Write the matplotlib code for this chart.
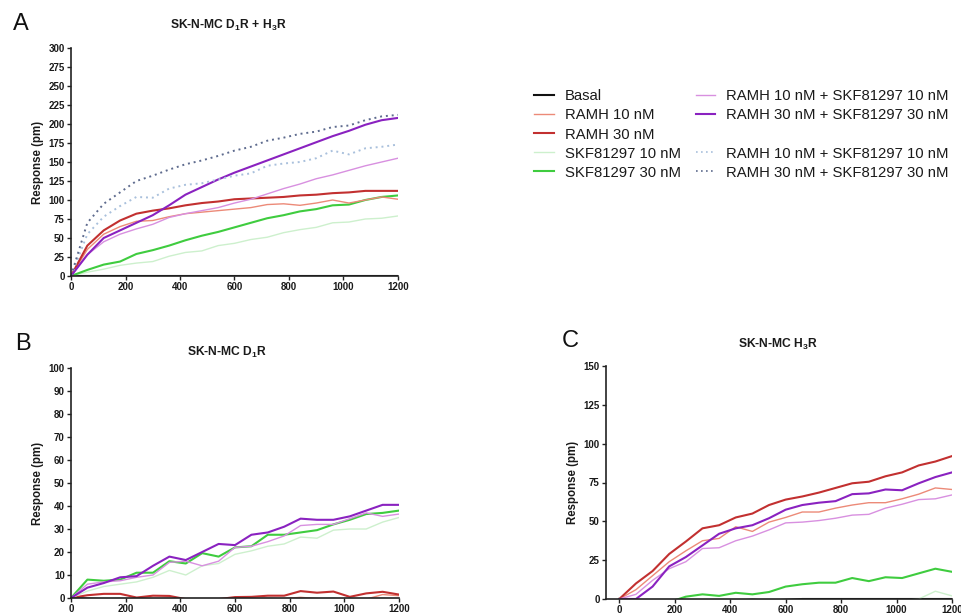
import matplotlib
matplotlib.use("Agg")
import matplotlib.pyplot as plt
from matplotlib.lines import Line2D

plt.rcParams['font.family'] = ['Liberation Sans', 'DejaVu Sans']
plt.rcParams['mathtext.fontset'] = 'custom'
plt.rcParams['mathtext.rm'] = 'Liberation Sans'
plt.rcParams['mathtext.bf'] = 'Liberation Sans:bold'

# ---------------- data ----------------
time_s = [0, 60, 120, 180, 240, 300, 360, 420, 480, 540, 600, 660, 720, 780, 840,
          900, 960, 1020, 1080, 1140, 1200]

series_labels = ["Basal", "RAMH 10 nM", "RAMH 30 nM", "SKF81297 10 nM", "SKF81297 30 nM",
                 "RAMH 10 nM + SKF81297 10 nM", "RAMH 30 nM + SKF81297 30 nM",
                 "RAMH 10 nM + SKF81297 10 nM", "RAMH 30 nM + SKF81297 30 nM"]

# Panel A: SK-N-MC D1R + H3R
a_basal = [0] * 21
a_ramh10 = [0, 35, 55, 65, 72, 73, 78, 82, 84, 86, 88, 90, 94, 95, 93, 96, 100, 96, 100, 104, 101]
a_ramh30 = [0, 40, 60, 73, 82, 86, 89, 93, 96, 98, 101, 102, 103, 104, 106, 107, 109, 110, 112, 112, 112]
a_skf10 = [0, 5, 9, 14, 17, 19, 26, 31, 33, 40, 43, 48, 51, 57, 61, 64, 70, 71, 75, 76, 79]
a_skf30 = [0, 8, 15, 19, 29, 34, 40, 47, 53, 58, 64, 70, 76, 80, 85, 88, 93, 94, 100, 104, 106]
a_combo10 = [0, 28, 45, 55, 62, 68, 77, 82, 86, 90, 96, 101, 108, 115, 121, 128, 133, 139, 145, 150, 155]
a_combo30 = [0, 28, 50, 60, 70, 80, 93, 107, 117, 127, 136, 144, 152, 160, 168, 176, 184, 191, 199, 205, 208]
a_sum10 = [0, 55, 78, 92, 104, 103, 115, 120, 122, 127, 132, 135, 145, 148, 150, 155, 165, 160, 168, 170, 173]
a_sum30 = [0, 70, 95, 110, 125, 132, 140, 147, 152, 158, 165, 170, 178, 182, 187, 190, 196, 198, 205, 210, 212]

# Panel B: SK-N-MC D1R
b_basal = [0, -0.3, -0.5, -0.4, -0.6, -0.5, -0.4, -0.6, -0.5, -0.5, -0.4, -0.5, -0.4, -0.5, -0.3,
           -0.5, -0.4, -0.6, -0.5, -0.4, -0.5]
b_ramh10 = [0, -0.5, -0.3, -0.5, -1, -0.5, -0.3, -1, -1.5, -1, -0.5, -0.5, -0.5, -0.3, 0.3,
            -0.3, -0.5, -1, -0.5, 1.5, 1.0]
b_ramh30 = [0, 1.2, 1.8, 1.8, 0.2, 1.0, 0.9, -0.5, -1, -0.5, 0.4, 0.5, 1.0, 1.0, 3.0,
            2.3, 2.8, 0.5, 2.0, 2.7, 1.5]
b_skf10 = [0, 3, 5, 6, 7, 9, 12, 10, 14, 15, 19, 20.5, 22.5, 23.5, 26.5, 26, 29.5, 30, 30, 33, 35]
b_skf30 = [0, 8, 7.5, 8, 11, 11, 16, 15, 19.5, 18, 22, 22.5, 27.5, 27.5, 28.5, 29.5, 32, 34, 36.5, 37, 38]
b_combo10 = [0, 6, 7, 7.5, 9, 10, 15.5, 16, 14, 16, 22, 22.5, 24.5, 27, 31.5, 32, 32, 34.5, 37, 35.5, 36.5]
b_combo30 = [0, 4.5, 6.5, 9, 9.5, 14, 18, 16.5, 20, 23.5, 23, 27.5, 28.5, 31, 34.5, 34, 34, 35.5, 38, 40.5, 40.5]

# Panel C: SK-N-MC H3R
c_basal = [0, -1, -1.5, -1, -1.5, -1, -1.5, -1, -0.5, -1, -0.5, 0, 0, 0, 0, 0, 0, 0, 0, 0, 0]
c_ramh10 = [0, 6, 15, 24, 31, 37.5, 39, 46.5, 43.5, 49.5, 52.5, 56, 56, 58.5, 60.5, 62, 62, 64.5, 67.5, 71.5, 70.5]
c_ramh30 = [0, 10, 18, 29, 37, 45.5, 47.5, 52.5, 55, 60.5, 64, 66, 68.5, 71.5, 74.5, 75.5, 79, 81.5, 86, 88.5, 92]
c_skf10 = [0, -3, -5, -6, -6, -5, -6, -5, -5, -4, -4, -3, -3, -3, -2, -2, -1.5, -1, 0, 5, 2]
c_skf30 = [0, -2, -3, -2, 1.5, 3, 2, 4, 3, 4.5, 8, 9.5, 10.5, 10.5, 13.5, 11.5, 14, 13.5, 16.5, 19.5, 17.5]
c_combo10 = [0, 3, 12, 19.5, 24, 32.5, 33, 37.5, 40.5, 44.5, 49, 49.5, 50.5, 52, 54, 54.5, 58.5, 61, 64, 64.5, 67]
c_combo30 = [0, 0, 8, 21, 27, 34.5, 42, 45.5, 47.5, 52, 57.5, 60.5, 62, 63, 67.5, 68, 70.5, 70, 74.5, 78.5, 81.5]

# ---------------- styles ----------------
col_basal = "#111111"
col_ramh10 = "#ec8a78"
col_ramh30 = "#c23030"
col_skf10 = "#cdf0cd"
col_skf30 = "#3fcc3f"
col_combo10 = "#d890e0"
col_combo30 = "#8a22c0"
col_sum10 = "#a9c0dc"
col_sum30 = "#5e6b8e"

fig = plt.figure(figsize=(9.62, 6.14), dpi=100)

def style_axes(ax, ylim, yticks, xlim):
    ax.set_xlim(*xlim)
    ax.set_ylim(*ylim)
    ax.set_yticks(yticks)
    ax.set_xticks([0, 200, 400, 600, 800, 1000, 1200])
    for s in ['top', 'right']:
        ax.spines[s].set_visible(False)
    for s in ['left', 'bottom']:
        ax.spines[s].set_linewidth(1.2)
        ax.spines[s].set_color('#222222')
    ax.tick_params(axis='both', direction='out', length=3, width=1.0, color='#222222',
                   labelsize=7, pad=1.5)
    for lab in ax.get_xticklabels() + ax.get_yticklabels():
        lab.set_fontweight('bold')
        lab.set_color('#1a1a1a')
    ax.set_ylabel('Response (pm)', fontsize=8.3, fontweight='bold', color='#1a1a1a', labelpad=3)

thin = 1.0
thick = 1.5

# Panel A
axA = fig.add_axes([71/962, 1 - 276/614, 327/962, 228/614])
axA.plot(time_s, a_basal, color=col_basal, lw=thick, zorder=1)
axA.plot(time_s, a_skf10, color=col_skf10, lw=thin)
axA.plot(time_s, a_skf30, color=col_skf30, lw=thick)
axA.plot(time_s, a_ramh10, color=col_ramh10, lw=thin)
axA.plot(time_s, a_ramh30, color=col_ramh30, lw=thick)
axA.plot(time_s, a_combo10, color=col_combo10, lw=thin)
axA.plot(time_s, a_combo30, color=col_combo30, lw=thick)
axA.plot(time_s, a_sum10, color=col_sum10, lw=1.4, ls=(0, (1, 2)))
axA.plot(time_s, a_sum30, color=col_sum30, lw=1.4, ls=(0, (1, 2)))
style_axes(axA, (0, 300), list(range(0, 301, 25)), (0, 1200))

# Panel B
axB = fig.add_axes([71/962, 1 - 598/614, 328/962, 230/614])
axB.plot(time_s, b_basal, color=col_basal, lw=thick)
axB.plot(time_s, b_ramh10, color=col_ramh10, lw=thin)
axB.plot(time_s, b_ramh30, color=col_ramh30, lw=thick)
axB.plot(time_s, b_skf10, color=col_skf10, lw=thin)
axB.plot(time_s, b_skf30, color=col_skf30, lw=thick)
axB.plot(time_s, b_combo10, color=col_combo10, lw=thin)
axB.plot(time_s, b_combo30, color=col_combo30, lw=thick)
style_axes(axB, (0, 100), list(range(0, 101, 10)), (0, 1200))

# Panel C
axC = fig.add_axes([606/962, 1 - 599/614, 346/962, 233/614])
axC.plot(time_s, c_basal, color=col_basal, lw=thick)
axC.plot(time_s, c_skf10, color=col_skf10, lw=thin)
axC.plot(time_s, c_skf30, color=col_skf30, lw=thick)
axC.plot(time_s, c_ramh10, color=col_ramh10, lw=thin)
axC.plot(time_s, c_ramh30, color=col_ramh30, lw=thick)
axC.plot(time_s, c_combo10, color=col_combo10, lw=thin)
axC.plot(time_s, c_combo30, color=col_combo30, lw=thick)
style_axes(axC, (0, 150), list(range(0, 151, 25)), (-48, 1200))

# Titles and panel letters
fig.text(228/962, 1 - 25/614, r'SK-N-MC D$_\mathbf{1}$R + H$_\mathbf{3}$R', ha='center', va='center',
         fontsize=8.7, fontweight='bold', color='#1a1a1a')
fig.text(227/962, 1 - 352/614, r'SK-N-MC D$_\mathbf{1}$R', ha='center', va='center',
         fontsize=8.7, fontweight='bold', color='#1a1a1a')
fig.text(778/962, 1 - 344/614, r'SK-N-MC H$_\mathbf{3}$R', ha='center', va='center',
         fontsize=8.7, fontweight='bold', color='#1a1a1a')
fig.text(21/962, 1 - 24/614, 'A', ha='center', va='center', fontsize=17, color='#111111')
fig.text(23/962, 1 - 344/614, 'B', ha='center', va='center', fontsize=17, color='#111111')
fig.text(570/962, 1 - 341/614, 'C', ha='center', va='center', fontsize=17, color='#111111')

# Legend
handles = [
    Line2D([], [], color=col_basal, lw=thick),
    Line2D([], [], color=col_ramh10, lw=thin),
    Line2D([], [], color=col_ramh30, lw=thick),
    Line2D([], [], color=col_skf10, lw=thin),
    Line2D([], [], color=col_skf30, lw=thick),
    Line2D([], [], color=col_combo10, lw=thin),
    Line2D([], [], color=col_combo30, lw=thick),
    Line2D([], [], color='none', lw=0),
    Line2D([], [], color=col_sum10, lw=1.2, ls=(0, (1, 2))),
    Line2D([], [], color=col_sum30, lw=1.2, ls=(0, (1, 2))),
]
labels = series_labels[:7] + [' '] + series_labels[7:]
leg = fig.legend(handles, labels, ncol=2, loc='upper left',
                 bbox_to_anchor=(527/962, 1 - 82/614), frameon=False,
                 fontsize=10.7, handlelength=1.3, handletextpad=0.75,
                 columnspacing=1.0, labelspacing=0.34, borderpad=0)
for t in leg.get_texts():
    t.set_color('#1a1a1a')

fig.savefig('out.png', dpi=100)
